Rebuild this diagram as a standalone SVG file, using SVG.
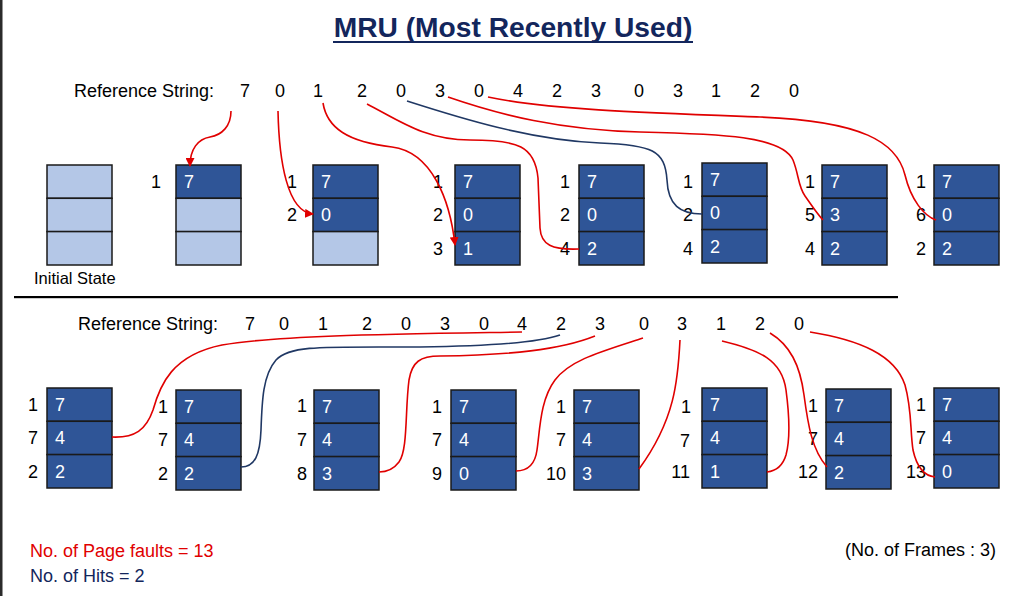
<svg xmlns="http://www.w3.org/2000/svg" width="1025" height="596" viewBox="0 0 1025 596">
<defs>
<style>
text{font-family:"Liberation Sans",Arial,sans-serif;font-size:18px;fill:#000}
.title{font-size:28.2px;font-weight:bold;fill:#13265C;text-anchor:middle}
.n{text-anchor:middle}
.lb{text-anchor:end}
.v{fill:#fff}
.d{fill:#2F5597;stroke:#1a1a1a;stroke-width:1.5}
.l{fill:#B4C7E7;stroke:#1a1a1a;stroke-width:1.5}
.r{fill:none;stroke:#E00000;stroke-width:1.6}
.b{fill:none;stroke:#203864;stroke-width:1.6}
.red{fill:#E00000}
.navy{fill:#13265C}
</style>
<marker id="ah" markerUnits="userSpaceOnUse" markerWidth="9" markerHeight="9" refX="8" refY="4.5" orient="auto">
<path d="M0,0 L9,4.5 L0,9 z" fill="#E00000"/>
</marker>
</defs>
<rect width="1025" height="596" fill="#fff"/>
<rect x="0" y="0" width="2.5" height="596" fill="#2b2b2b"/>

<g id="title">
<text class="title" x="513" y="37">MRU (Most Recently Used)</text>
<rect x="333" y="41" width="360" height="2" fill="#13265C"/>
</g>

<g id="refstring-top">
<text x="74" y="97">Reference String:</text>
<text class="n" x="245" y="97">7</text><text class="n" x="280" y="97">0</text><text class="n" x="318" y="97">1</text><text class="n" x="362" y="97">2</text><text class="n" x="401" y="97">0</text><text class="n" x="440" y="97">3</text><text class="n" x="479" y="97">0</text><text class="n" x="518" y="97">4</text><text class="n" x="557" y="97">2</text><text class="n" x="596" y="97">3</text><text class="n" x="639" y="97">0</text><text class="n" x="678" y="97">3</text><text class="n" x="716" y="97">1</text><text class="n" x="755" y="97">2</text><text class="n" x="794" y="97">0</text>
</g>

<g id="t1">
<rect class="l" x="47" y="165" width="65" height="33.3"/><rect class="l" x="47" y="198.3" width="65" height="33.3"/><rect class="l" x="47" y="231.6" width="65" height="33.4"/>
<text x="34" y="284" style="font-size:16.5px">Initial State</text>
</g>
<g id="t2">
<rect class="d" x="176" y="165" width="65" height="33.3"/><rect class="l" x="176" y="198.3" width="65" height="33.3"/><rect class="l" x="176" y="231.6" width="65" height="33.4"/>
<text class="v" x="184" y="188">7</text>
<text class="lb" x="161" y="188">1</text>
</g>
<g id="t3">
<rect class="d" x="313" y="165" width="65" height="33.3"/><rect class="d" x="313" y="198.3" width="65" height="33.3"/><rect class="l" x="313" y="231.6" width="65" height="33.4"/>
<text class="v" x="321" y="188">7</text><text class="v" x="321" y="221">0</text>
<text class="lb" x="297" y="188">1</text><text class="lb" x="297" y="221">2</text>
</g>
<g id="t4">
<rect class="d" x="455" y="165" width="65" height="33.3"/><rect class="d" x="455" y="198.3" width="65" height="33.3"/><rect class="d" x="455" y="231.6" width="65" height="33.4"/>
<text class="v" x="463" y="188">7</text><text class="v" x="463" y="221">0</text><text class="v" x="463" y="255">1</text>
<text class="lb" x="443" y="188">1</text><text class="lb" x="443" y="221">2</text><text class="lb" x="443" y="255">3</text>
</g>
<g id="t5">
<rect class="d" x="579" y="165" width="65" height="33.3"/><rect class="d" x="579" y="198.3" width="65" height="33.3"/><rect class="d" x="579" y="231.6" width="65" height="33.4"/>
<text class="v" x="587" y="188">7</text><text class="v" x="587" y="221">0</text><text class="v" x="587" y="255">2</text>
<text class="lb" x="570" y="188">1</text><text class="lb" x="570" y="221">2</text><text class="lb" x="570" y="255">4</text>
</g>
<g id="t6">
<rect class="d" x="702" y="163" width="65" height="33.3"/><rect class="d" x="702" y="196.3" width="65" height="33.3"/><rect class="d" x="702" y="229.6" width="65" height="33.4"/>
<text class="v" x="710" y="186">7</text><text class="v" x="710" y="219">0</text><text class="v" x="710" y="253">2</text>
<text class="lb" x="693" y="188">1</text><text class="lb" x="693" y="221">2</text><text class="lb" x="693" y="255">4</text>
</g>
<g id="t7">
<rect class="d" x="822" y="165" width="65" height="33.3"/><rect class="d" x="822" y="198.3" width="65" height="33.3"/><rect class="d" x="822" y="231.6" width="65" height="33.4"/>
<text class="v" x="830" y="188">7</text><text class="v" x="830" y="221">3</text><text class="v" x="830" y="255">2</text>
<text class="lb" x="815" y="188">1</text><text class="lb" x="815" y="221">5</text><text class="lb" x="815" y="255">4</text>
</g>
<g id="t8">
<rect class="d" x="934" y="165" width="65" height="33.3"/><rect class="d" x="934" y="198.3" width="65" height="33.3"/><rect class="d" x="934" y="231.6" width="65" height="33.4"/>
<text class="v" x="942" y="188">7</text><text class="v" x="942" y="221">0</text><text class="v" x="942" y="255">2</text>
<text class="lb" x="926" y="188">1</text><text class="lb" x="926" y="221">6</text><text class="lb" x="926" y="255">2</text>
</g>

<g id="separator">
<rect x="14" y="296" width="884" height="2.2" fill="#000"/>
</g>

<g id="refstring-bottom">
<text x="78" y="330">Reference String:</text>
<text class="n" x="250" y="330">7</text><text class="n" x="284" y="330">0</text><text class="n" x="323" y="330">1</text><text class="n" x="367" y="330">2</text><text class="n" x="406" y="330">0</text><text class="n" x="445" y="330">3</text><text class="n" x="484" y="330">0</text><text class="n" x="522" y="330">4</text><text class="n" x="561" y="330">2</text><text class="n" x="600" y="330">3</text><text class="n" x="644" y="330">0</text><text class="n" x="682" y="330">3</text><text class="n" x="721" y="330">1</text><text class="n" x="760" y="330">2</text><text class="n" x="799" y="330">0</text>
</g>

<g id="b1">
<rect class="d" x="47" y="388" width="65" height="33.3"/><rect class="d" x="47" y="421.3" width="65" height="33.3"/><rect class="d" x="47" y="454.6" width="65" height="33.4"/>
<text class="v" x="55" y="411">7</text><text class="v" x="55" y="444">4</text><text class="v" x="55" y="478">2</text>
<text class="lb" x="38" y="411">1</text><text class="lb" x="38" y="444">7</text><text class="lb" x="38" y="478">2</text>
</g>
<g id="b2">
<rect class="d" x="176" y="390" width="65" height="33.3"/><rect class="d" x="176" y="423.3" width="65" height="33.3"/><rect class="d" x="176" y="456.6" width="65" height="33.4"/>
<text class="v" x="184" y="413">7</text><text class="v" x="184" y="446">4</text><text class="v" x="184" y="480">2</text>
<text class="lb" x="168" y="413">1</text><text class="lb" x="168" y="446">7</text><text class="lb" x="168" y="480">2</text>
</g>
<g id="b3">
<rect class="d" x="314" y="390" width="65" height="33.3"/><rect class="d" x="314" y="423.3" width="65" height="33.3"/><rect class="d" x="314" y="456.6" width="65" height="33.4"/>
<text class="v" x="322" y="413">7</text><text class="v" x="322" y="446">4</text><text class="v" x="322" y="480">3</text>
<text class="lb" x="307" y="412">1</text><text class="lb" x="307" y="446">7</text><text class="lb" x="307" y="480">8</text>
</g>
<g id="b4">
<rect class="d" x="451" y="390" width="65" height="33.3"/><rect class="d" x="451" y="423.3" width="65" height="33.3"/><rect class="d" x="451" y="456.6" width="65" height="33.4"/>
<text class="v" x="459" y="413">7</text><text class="v" x="459" y="446">4</text><text class="v" x="459" y="480">0</text>
<text class="lb" x="442" y="413">1</text><text class="lb" x="442" y="446">7</text><text class="lb" x="442" y="480">9</text>
</g>
<g id="b5">
<rect class="d" x="574" y="390" width="65" height="33.3"/><rect class="d" x="574" y="423.3" width="65" height="33.3"/><rect class="d" x="574" y="456.6" width="65" height="33.4"/>
<text class="v" x="582" y="413">7</text><text class="v" x="582" y="446">4</text><text class="v" x="582" y="480">3</text>
<text class="lb" x="566" y="413">1</text><text class="lb" x="566" y="446">7</text><text class="lb" x="566" y="480">10</text>
</g>
<g id="b6">
<rect class="d" x="702" y="388" width="65" height="33.3"/><rect class="d" x="702" y="421.3" width="65" height="33.3"/><rect class="d" x="702" y="454.6" width="65" height="33.4"/>
<text class="v" x="710" y="411">7</text><text class="v" x="710" y="444">4</text><text class="v" x="710" y="478">1</text>
<text class="lb" x="691" y="413">1</text><text class="lb" x="690" y="447">7</text><text class="lb" x="690" y="478">11</text>
</g>
<g id="b7">
<rect class="d" x="826" y="389" width="65" height="33.3"/><rect class="d" x="826" y="422.3" width="65" height="33.3"/><rect class="d" x="826" y="455.6" width="65" height="33.4"/>
<text class="v" x="834" y="412">7</text><text class="v" x="834" y="445">4</text><text class="v" x="834" y="479">2</text>
<text class="lb" x="818" y="412">1</text><text class="lb" x="818" y="445">7</text><text class="lb" x="818" y="478">12</text>
</g>
<g id="b8">
<rect class="d" x="934" y="388" width="65" height="33.3"/><rect class="d" x="934" y="421.3" width="65" height="33.3"/><rect class="d" x="934" y="454.6" width="65" height="33.4"/>
<text class="v" x="942" y="411">7</text><text class="v" x="942" y="444">4</text><text class="v" x="942" y="478">0</text>
<text class="lb" x="926" y="411">1</text><text class="lb" x="926" y="444">7</text><text class="lb" x="926" y="478">13</text>
</g>

<g id="connectors">
<path class="r" marker-end="url(#ah)" d="M231,111 C231,126 222,135 210,137 C198,139 190,149 190,166"/>
<path class="r" marker-end="url(#ah)" d="M278,111 C279,160 287,212 313,214"/>
<path class="r" marker-end="url(#ah)" d="M323,103 C327,128 348,142 392,147 C432,152 450,200 455,245"/>
<path class="r" d="M367,104 C400,121 425,140 470,140 C518,140 535,146 538,178 L540,228 C541,245 552,250 579,249"/>
<path class="b" d="M407,101 C460,118 530,140 600,143 C652,145 665,150 667,180 C668,205 680,214 702,214"/>
<path class="r" d="M448,97 C500,115 560,130 640,132 C722,134 782,136 793,160 C799,175 798,186 805,196 C812,206 818,215 823,220"/>
<path class="r" d="M488,97 C550,110 650,113 760,117 C862,121 897,142 905,175 C911,200 924,216 936,220"/>
<path class="r" d="M522,332 C400,334 280,335 222,345 C172,355 160,385 153,410 C146,430 135,438 112,437"/>
<path class="b" d="M560,335 C540,342 500,346 420,347 C322,347 290,345 276,360 C263,375 262,400 261,430 C260,455 255,467 241,467"/>
<path class="r" d="M595,336 C560,350 510,355 440,356 C420,356 412,362 409,380 C405,410 408,450 399,462 C393,470 386,472 379,472"/>
<path class="r" d="M643,338 C600,352 570,360 555,380 C540,400 540,430 537,450 C535,465 528,471 516,471"/>
<path class="r" d="M680,340 C678,380 675,420 639,469"/>
<path class="r" d="M722,341 C760,350 782,360 786,390 C790,420 790,440 786,455 C783,465 776,471 767,472"/>
<path class="r" d="M770,333 C790,345 800,365 804,395 C808,425 812,450 827,467"/>
<path class="r" d="M810,332 C860,340 895,355 905,385 C912,410 910,430 913,450 C917,468 925,476 935,477"/>
</g>

<g id="summary">
<text class="red" x="30" y="557">No. of Page faults = 13</text>
<text class="navy" x="30" y="582">No. of Hits = 2</text>
<text x="845" y="556">(No. of Frames : 3)</text>
</g>
</svg>
